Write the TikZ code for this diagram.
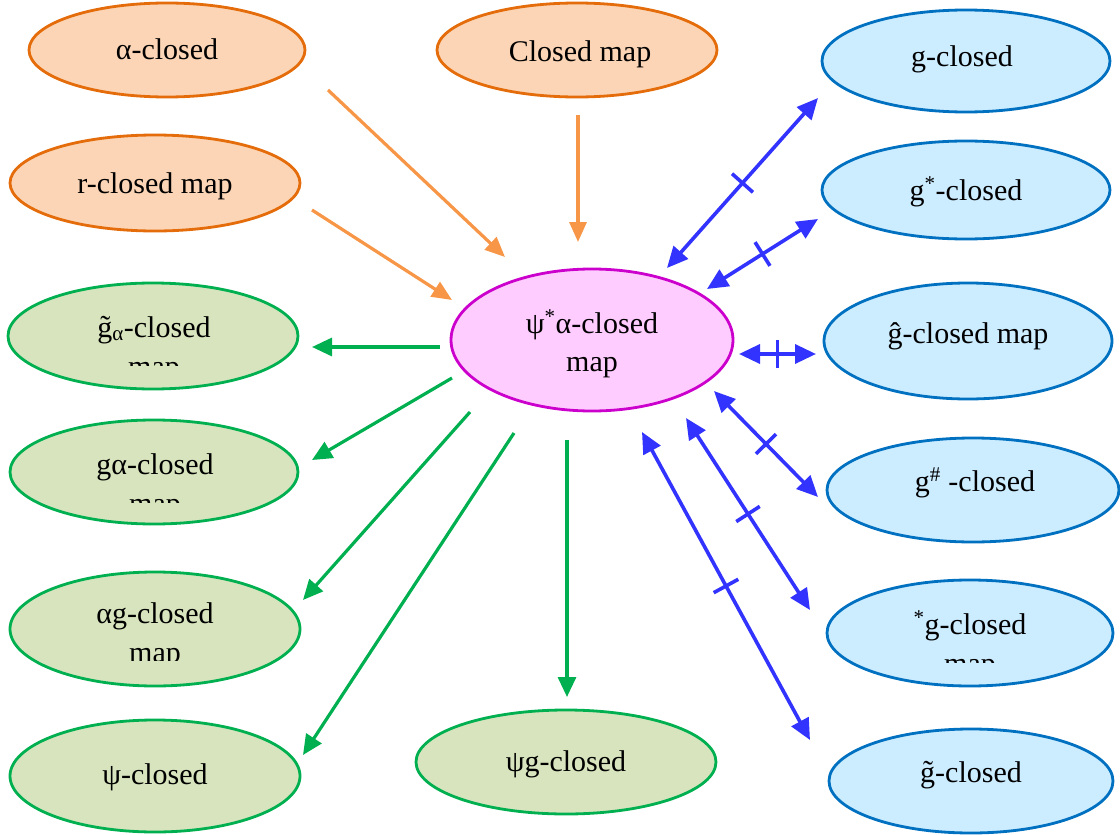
\documentclass[tikz,border=0pt]{standalone}
\usepackage{fontspec}
\setmainfont{Liberation Serif}
\usetikzlibrary{arrows.meta,decorations.markings,shapes.geometric}
\definecolor{orfill}{HTML}{FBD5B5}
\definecolor{ordraw}{HTML}{E46C0A}
\definecolor{orarrow}{HTML}{F79646}
\definecolor{grfill}{HTML}{D7E4BD}
\definecolor{grdraw}{HTML}{00B050}
\definecolor{pkfill}{HTML}{FFCCFF}
\definecolor{pkdraw}{HTML}{CC00CC}
\definecolor{blfill}{HTML}{CCECFF}
\definecolor{bldraw}{HTML}{0070C0}
\definecolor{blarrow}{HTML}{3333FF}
\tikzset{
  ell/.style 2 args={ellipse, inner sep=0pt, line width=2.8pt, minimum width=#1pt, minimum height=#2pt},
  orell/.style={fill=orfill, draw=ordraw},
  grell/.style={fill=grfill, draw=grdraw},
  pkell/.style={fill=pkfill, draw=pkdraw},
  blell/.style={fill=blfill, draw=bldraw},
  lbl/.style={anchor=base, inner sep=0pt, font=\fontsize{30}{40}\selectfont},
  oarr/.style={draw=orarrow, line width=3.2pt, -{Triangle[length=20pt,width=17pt]}},
  garr/.style={draw=grdraw, line width=3.2pt, -{Triangle[length=20pt,width=18pt]}},
  barr/.style={draw=blarrow, line width=3.6pt,
    {Triangle[length=21pt,width=19pt]}-{Triangle[length=21pt,width=19pt]},
    postaction={decorate},
    decoration={markings, mark=at position 0.5 with {\draw[-,blarrow,line width=3.6pt] (0pt,-14pt) -- (0pt,14pt);}}}
}
\begin{document}
\begin{tikzpicture}[x=1pt,y=-1pt]
\useasboundingbox (0,0) rectangle (1120,835);
% ellipses
\node[ell={276}{94}, orell] (alc) at (167,50) {};
\node[ell={280}{94}, orell] (clm) at (577,50) {};
\node[ell={290}{96}, orell] (rcl) at (155,183) {};
\node[ell={288}{102}, blell] (gcl) at (966,61) {};
\node[ell={288}{98}, blell] (gsc) at (966,190) {};
\node[ell={290}{106}, grell] (gta) at (153,336) {};
\node[ell={282}{142}, pkell] (psi) at (592,340) {};
\node[ell={288}{116}, blell] (ghat) at (968,341) {};
\node[ell={288}{104}, grell] (gal) at (154,472) {};
\node[ell={292}{104}, blell] (gsh) at (973,490) {};
\node[ell={290}{114}, grell] (alg) at (155,629) {};
\node[ell={286}{106}, blell] (sgc) at (970,633) {};
\node[ell={290}{112}, grell] (psc) at (155,776) {};
\node[ell={300}{104}, grell] (psg) at (566,762) {};
\node[ell={284}{104}, blell] (gtc) at (971,781) {};
% labels
\node[lbl] (t1) at (167,59) {α-closed};
\node[lbl] (t2) at (580,61) {Closed map};
\node[lbl] (t3) at (155,193) {r-closed map};
\node[lbl] (t4) at (962,66) {g-closed};
\node[lbl] (t5) at (966,200) {g\textsuperscript{*}-closed};
\node[lbl] (t6) at (154,337) {g̃\textsubscript{α}-closed};
\node[lbl] (t7) at (592,333) {ψ\textsuperscript{*}α-closed};
\node[lbl] (t7b) at (592,371) {map};
\node[lbl] (t8) at (968,343) {ĝ-closed map};
\node[lbl] (t9) at (155,474) {gα-closed};
\node[lbl] (t10) at (975,491) {g\textsuperscript{\#} -closed};
\node[lbl] (t11) at (155,623) {αg-closed};
\node[lbl] (t12) at (970,634) {\textsuperscript{*}g-closed};
\node[lbl] (t13) at (155,784) {ψ-closed};
\node[lbl] (t14) at (566,771) {ψg-closed};
\node[lbl] (t15) at (971,782) {g̃-closed};
% clipped second lines
\begin{scope}
\clip (60,350) rectangle (250,365);
\node[lbl] (m1) at (154,376) {map};
\end{scope}
\begin{scope}
\clip (60,490) rectangle (250,502);
\node[lbl] (m2) at (155,513) {map};
\end{scope}
\begin{scope}
\clip (60,640) rectangle (250,660);
\node[lbl] (m3) at (155,662) {map};
\end{scope}
\begin{scope}
\clip (880,650) rectangle (1060,662);
\node[lbl] (m4) at (970,673) {map};
\end{scope}
% arrow end points
\coordinate (o1s) at (328,90);  \coordinate (o1e) at (505,257);
\coordinate (o2s) at (578,115); \coordinate (o2e) at (578,242);
\coordinate (o3s) at (312,210); \coordinate (o3e) at (452,300);
\coordinate (g1s) at (440,347); \coordinate (g1e) at (312,347);
\coordinate (g2s) at (452,378); \coordinate (g2e) at (312,460);
\coordinate (g3s) at (470,412); \coordinate (g3e) at (303,600);
\coordinate (g4s) at (514,433); \coordinate (g4e) at (303,755);
\coordinate (g5s) at (567,440); \coordinate (g5e) at (567,697);
\coordinate (b1s) at (667,268); \coordinate (b1e) at (818,98);
\coordinate (b2s) at (707,289); \coordinate (b2e) at (818,219);
\coordinate (b3s) at (739,354); \coordinate (b3e) at (816,354);
\coordinate (b4s) at (714,391); \coordinate (b4e) at (818,497);
\coordinate (b5s) at (686,418); \coordinate (b5e) at (810,610);
\coordinate (b6s) at (642,432); \coordinate (b6e) at (810,740);
% arrows
\draw[oarr] (o1s) -- (o1e);
\draw[oarr] (o2s) -- (o2e);
\draw[oarr] (o3s) -- (o3e);
\draw[garr] (g1s) -- (g1e);
\draw[garr] (g2s) -- (g2e);
\draw[garr] (g3s) -- (g3e);
\draw[garr] (g4s) -- (g4e);
\draw[garr] (g5s) -- (g5e);
\draw[barr] (b1s) -- (b1e);
\draw[barr] (b2s) -- (b2e);
\draw[barr] (b3s) -- (b3e);
\draw[barr] (b4s) -- (b4e);
\draw[barr] (b5s) -- (b5e);
\draw[barr] (b6s) -- (b6e);
\end{tikzpicture}
\end{document}
